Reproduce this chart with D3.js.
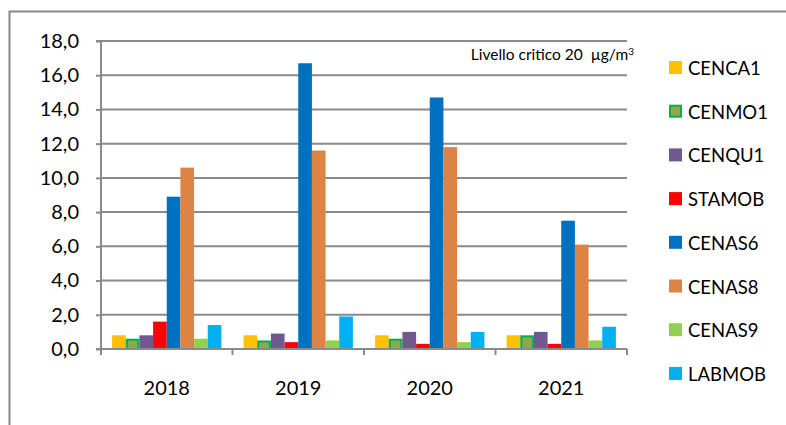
<!DOCTYPE html>
<html>
<head>
<meta charset="utf-8">
<script src="https://cdn.jsdelivr.net/npm/d3@7"></script>
<style>
  body { margin: 0; background: #fff; overflow: hidden; }
  svg { display: block; }
  text { font-family: Lato, "Open Sans", sans-serif; fill: #000; }
</style>
</head>
<body>
<div id="plot"></div>
<script>
const w = 786;
const h = 425;

const years = ["2018", "2019", "2020", "2021"];
const stations = ["CENCA1", "CENMO1", "CENQU1", "STAMOB", "CENAS6", "CENAS8", "CENAS9", "LABMOB"];
const colors = ["#FFC000", "#8FA84E", "#71588F", "#FF0000", "#0070C0", "#DD8444", "#92D050", "#00B0F0"];

// valori per stazione, un valore per anno
const CENCA1 = [0.8, 0.8, 0.8, 0.8];
const CENMO1 = [0.6, 0.5, 0.6, 0.8];
const CENQU1 = [0.8, 0.9, 1.0, 1.0];
const STAMOB = [1.6, 0.4, 0.3, 0.3];
const CENAS6 = [8.9, 16.7, 14.7, 7.5];
const CENAS8 = [10.6, 11.6, 11.8, 6.1];
const CENAS9 = [0.6, 0.5, 0.4, 0.5];
const LABMOB = [1.4, 1.9, 1.0, 1.3];
const yTicks = [0, 2, 4, 6, 8, 10, 12, 14, 16, 18];

const series = [CENCA1, CENMO1, CENQU1, STAMOB, CENAS6, CENAS8, CENAS9, LABMOB];

const pLeft = 101, pRight = 627, pTop = 41, pBottom = 349;

const svg = d3.select("#plot").
  append("svg").
  attr("width", w).
  attr("height", h);

// cornice esterna
svg.append("rect").
  attr("x", 9.5).
  attr("y", 11.5).
  attr("width", w + 20).
  attr("height", h + 20).
  attr("fill", "none").
  attr("stroke", "#888").
  attr("stroke-width", 2);

const xScale = d3.scaleBand().
  domain(years).
  range([pLeft, pRight]).
  paddingInner(0.169).
  paddingOuter(0.0845);

const xInner = d3.scaleBand().
  domain(stations).
  range([0, xScale.bandwidth()]);

const yScale = d3.scaleLinear().
  domain([0, 18]).
  range([pBottom, pTop]);

// griglia
svg.append("g").
  selectAll("line").
  data(yTicks.filter(d => d > 0)).
  enter().
  append("line").
  attr("x1", pLeft).
  attr("x2", pRight).
  attr("y1", d => yScale(d)).
  attr("y2", d => yScale(d)).
  attr("stroke", "#8a8a8a").
  attr("stroke-width", 2);

// barre
const groups = svg.append("g").
  selectAll("g").
  data(years).
  enter().
  append("g").
  attr("transform", d => "translate(" + xScale(d) + ",0)");

groups.selectAll("rect").
  data((d, i) => stations.map((s, j) => ({ s: s, v: series[j][i], c: colors[j] }))).
  enter().
  append("rect").
  attr("x", d => xInner(d.s) + (d.s === "CENMO1" ? 1 : 0)).
  attr("y", d => yScale(d.v) + (d.s === "CENMO1" ? 1 : 0)).
  attr("width", d => xInner.bandwidth() - (d.s === "CENMO1" ? 2 : 0)).
  attr("height", d => yScale(0) - yScale(d.v) - (d.s === "CENMO1" ? 1 : 0)).
  attr("fill", d => d.c).
  attr("stroke", d => d.s === "CENMO1" ? "#00B050" : "none").
  attr("stroke-width", 2);

// asse y
const yAxis = d3.axisLeft(yScale).
  tickValues(yTicks).
  tickSize(5).
  tickPadding(17).
  tickFormat(d => d3.format(".1f")(d).replace(".", ","));

const gy = svg.append("g").
  attr("transform", "translate(" + pLeft + ",0)").
  call(yAxis);
gy.selectAll("line, path").attr("stroke", "#8a8a8a").attr("stroke-width", 2);
gy.select("path").attr("d", "M-5," + pTop + "H0V" + pBottom + "H-5");
gy.selectAll("text").style("font-size", "20px").attr("fill", "#000");

// asse x
const gx = svg.append("g").attr("transform", "translate(0," + pBottom + ")");
gx.append("line").
  attr("x1", pLeft - 5).
  attr("x2", pRight).
  attr("stroke", "#8a8a8a").
  attr("stroke-width", 2);
gx.selectAll(".tick").
  data(d3.range(years.length + 1)).
  enter().
  append("line").
  attr("class", "tick").
  attr("x1", i => pLeft + i * xScale.step()).
  attr("x2", i => pLeft + i * xScale.step()).
  attr("y1", 0).
  attr("y2", 6).
  attr("stroke", "#8a8a8a").
  attr("stroke-width", 2);
gx.selectAll("text").
  data(years).
  enter().
  append("text").
  attr("x", d => xScale(d) + xScale.bandwidth() / 2).
  attr("y", 46).
  attr("text-anchor", "middle").
  style("font-size", "20px").
  text(d => d);

// nota livello critico
const note = svg.append("text").
  attr("x", 634).
  attr("y", 60).
  attr("text-anchor", "end").
  style("white-space", "pre").
  style("font-size", "15.5px");
note.append("tspan").text("Livello critico 20  µg/m");
note.append("tspan").attr("dy", -5).style("font-size", "10px").text("3");

// legenda
const legend = svg.append("g").attr("id", "legend");
const size = 13;
const step = 43.7;

legend.selectAll("rect").
  data(stations).
  enter().
  append("rect").
  attr("x", d => d === "CENMO1" ? 670 : 669).
  attr("y", (d, i) => 61 + i * step + (d === "CENMO1" ? 1 : 0)).
  attr("width", d => d === "CENMO1" ? size - 2 : size).
  attr("height", d => d === "CENMO1" ? size - 2 : size).
  attr("fill", (d, i) => colors[i]).
  attr("stroke", d => d === "CENMO1" ? "#00B050" : "none").
  attr("stroke-width", 2);

legend.selectAll("text").
  data(stations).
  enter().
  append("text").
  attr("x", 688).
  attr("y", (d, i) => 75 + i * step).
  style("font-size", "18.5px").
  text(d => d);
</script>
</body>
</html>
